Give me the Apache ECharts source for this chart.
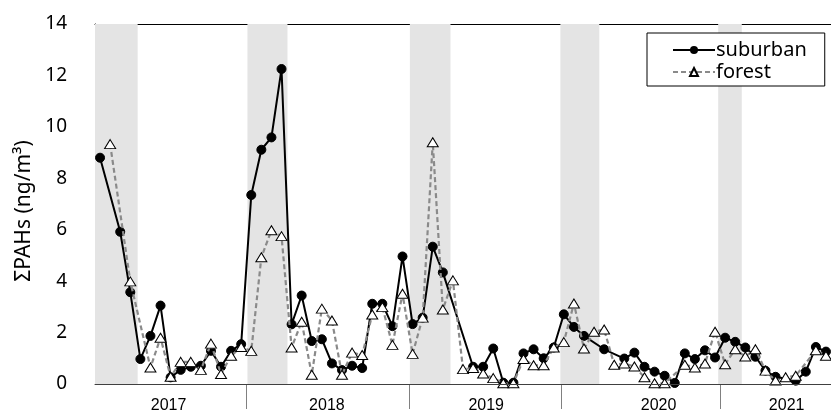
<!DOCTYPE html>
<html><head><meta charset="utf-8">
<script src="https://cdn.jsdelivr.net/npm/echarts@6/dist/echarts.min.js"></script>
<style>html,body{margin:0;padding:0;background:#fff}#c{width:831px;height:414px}</style>
</head><body><div id="c"></div>
<script>
// ΣPAHs (ng/m³), one value per sampling period (null = no sample)
const suburban = [8.8, null, 5.92, 3.57, 0.97, 1.87, 3.05, 0.26, 0.55, 0.67,
  0.71, 1.29, 0.67, 1.29, 1.55, 7.35, 9.11, 9.59, 12.25, 2.32,
  3.44, 1.67, 1.74, 0.80, 0.54, 0.71, 0.62, 3.12, 3.12, 2.25,
  4.96, 2.33, 2.58, 5.34, 4.34, null, null, 0.67, 0.67, 1.38,
  0.05, 0.05, 1.19, 1.35, 1.00, 1.42, 2.71, 2.22, 1.87, null,
  1.35, null, 0.99, 1.22, 0.67, 0.48, 0.32, 0.04, 1.19, 0.97,
  1.31, 1.03, 1.80, 1.64, 1.42, 1.06, 0.52, 0.28, null, 0.13,
  0.48, 1.44, 1.26];
const forest = [null, 9.33, null, 3.99, null, 0.64, 1.80, 0.28, 0.86, 0.86,
  0.55, 1.57, 0.39, 1.10, 1.44, 1.29, 4.93, 5.98, 5.75, 1.42,
  2.42, 0.36, 2.93, 2.47, 0.36, 1.22, 1.13, 2.70, 2.99, 1.52,
  3.51, 1.17, 2.58, 9.40, 2.90, 4.03, 0.58, 0.62, 0.41, 0.23,
  0.03, 0.03, 0.97, 0.73, 0.73, 1.42, 1.63, 3.13, 1.38, 2.03,
  2.12, 0.75, 0.80, 0.68, 0.26, 0.03, 0.03, null, 0.75, 0.64,
  0.80, 2.03, 0.77, 1.35, 1.07, 1.35, 0.52, 0.13, 0.26, 0.32,
  null, 1.31, 1.10];
const yearLabels = ['2017', '2018', '2019', '2020', '2021'];
const yearLabelPos = [7.3, 23.0, 38.8, 55.9, 68.6];      // in sample units
const yearDividers = [14.96, 31.2, 46.29, 62.0];         // in sample units
const winterStart = [0, 15.12, 31.23, 46.16, 61.81];
const winterEnd = [4.23, 19.09, 35.26, 50.02, 64.15];
const categories = suburban.map((_, i) => String(i + 1));
const nCat = categories.length;

const chart = echarts.init(document.getElementById('c'), null, {renderer: 'canvas'});
const option = {
  animation: false,
  backgroundColor: '#fff',
  grid: {left: 95, right: -1, top: 24, bottom: 27, containLabel: false},
  legend: {
    data: ['suburban', 'forest'],
    orient: 'vertical',
    left: 647, top: 33,
    padding: [7, 18, 4, 25],
    itemGap: 2,
    itemWidth: 42, itemHeight: 10,
    backgroundColor: '#fff',
    borderColor: '#000', borderWidth: 1,
    textStyle: {fontFamily: 'Noto Sans', fontSize: 20, color: '#000', padding: [0, 0, 0, -4]},
    z: 10
  },
  xAxis: [
    {type: 'category', data: categories, boundaryGap: true,
     axisLine: {show: true, lineStyle: {color: '#404040', width: 1}},
     axisTick: {show: false}, axisLabel: {show: false}, splitLine: {show: false}, z: 5},
    {type: 'value', min: 0, max: nCat, position: 'bottom',
     axisLine: {show: false}, splitLine: {show: false},
     axisTick: {show: true, inside: false, length: 25, customValues: yearDividers,
                lineStyle: {color: '#808080', width: 1}},
     axisLabel: {show: true, customValues: yearLabelPos, margin: 14,
                 fontFamily: 'Liberation Sans', fontSize: 16, color: '#000',
                 formatter: function (v) {
                   for (let k = 0; k < yearLabelPos.length; k++) {
                     if (Math.abs(yearLabelPos[k] - v) < 0.01) return yearLabels[k];
                   }
                   return '';
                 }}},
    {type: 'value', min: 0, max: nCat, position: 'top',
     axisLine: {show: true, lineStyle: {color: '#000', width: 1}},
     axisTick: {show: false}, axisLabel: {show: false}, splitLine: {show: false}}
  ],
  yAxis: {
    type: 'value', min: 0, max: 14, interval: 2,
    name: 'ΣPAHs (ng/m³)', nameLocation: 'middle', nameGap: 58,
    nameTextStyle: {fontFamily: 'Noto Sans', fontSize: 21, color: '#000', padding: [0, 14, 0, 0]},
    axisLine: {show: true, lineStyle: {color: '#000', width: 1}},
    axisTick: {show: true, inside: true, length: 7, lineStyle: {color: '#000'}},
    axisLabel: {margin: 28, fontFamily: 'Noto Sans', fontSize: 19, color: '#000'},
    splitLine: {show: false}
  },
  series: [
    {name: 'winter', type: 'line', xAxisIndex: 1, yAxisIndex: 0, data: [], z: 1,
     silent: true,
     markArea: {silent: true, itemStyle: {color: '#E4E4E4'},
       data: winterStart.map((s, k) => [{xAxis: s}, {xAxis: winterEnd[k]}])}},
    {name: 'suburban', type: 'line', xAxisIndex: 0, data: suburban, connectNulls: true,
     symbol: 'circle', symbolSize: 9, z: 3, showSymbol: true, showAllSymbol: true,
     lineStyle: {color: '#000', width: 2},
     itemStyle: {color: '#000', borderColor: '#000'}},
    {name: 'forest', type: 'line', xAxisIndex: 0, data: forest, connectNulls: true,
     symbol: 'triangle', symbolSize: [11, 9], z: 4, showSymbol: true, showAllSymbol: true,
     lineStyle: {color: '#8a8a8a', width: 2.2, type: [5, 3]},
     itemStyle: {color: '#fff', borderColor: '#000', borderWidth: 1}}
  ]
};
chart.setOption(option);
</script></body></html>
